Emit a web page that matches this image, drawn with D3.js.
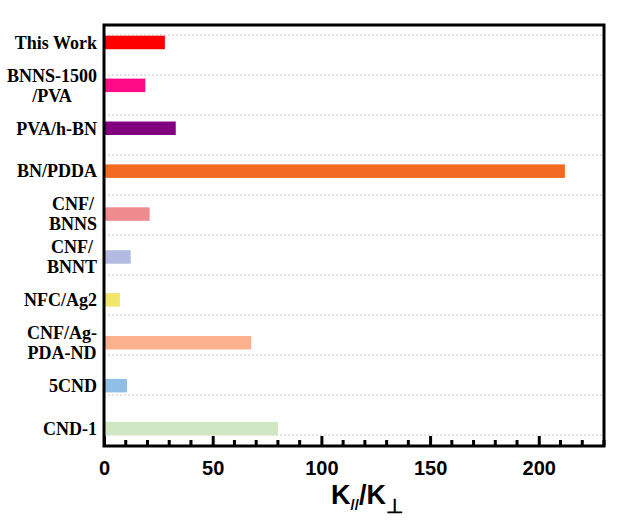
<!DOCTYPE html>
<html>
<head>
<meta charset="utf-8">
<script src="https://cdn.jsdelivr.net/npm/d3@7"></script>
<style>
  html, body { margin: 0; padding: 0; background: #ffffff; }
  svg { display: block; }
</style>
</head>
<body>
<script>
// Thermal conductivity anisotropy (K∥/K⊥) of the compared composites
const categories = ["This Work", "BNNS-1500\n/PVA", "PVA/h-BN", "BN/PDDA", "CNF/\nBNNS",
                    "CNF/\nBNNT", "NFC/Ag2", "CNF/Ag-\nPDA-ND", "5CND", "CND-1"];
const values = [28, 19, 33, 212, 21, 12.3, 7.3, 67.7, 10.6, 80];
const barColors = ["#ff0000", "#ff0a87", "#800080", "#f26a22", "#ef8b8f",
                   "#b3bce0", "#f2e56c", "#fdb08e", "#8fbee6", "#cfe7c3"];
const majorTicks = [0, 50, 100, 150, 200];
const minorTicks = d3.range(0, 231, 10).filter(v => v % 50 !== 0);

const W = 617, H = 523;
const plotL = 104, plotR = 604, plotT = 25, plotB = 446;

const svg = d3.select("body").append("svg").attr("width", W).attr("height", H);

const x = d3.scaleLinear().domain([0, 230]).range([plotL, plotR]);
const y = d3.scaleBand().domain(categories).range([21, 450])
  .paddingInner(0.685).paddingOuter(0.3425);

// dashed horizontal guides
const guide = d3.scaleLinear().domain([0, 10]).range([435, 35]);
svg.append("g").selectAll("line").data(d3.range(11)).join("line")
  .attr("x1", plotL).attr("x2", plotR)
  .attr("y1", d => guide(d)).attr("y2", d => guide(d))
  .attr("stroke", "#c8c8c8").attr("stroke-width", 1)
  .attr("stroke-dasharray", "2,2");

// bars
svg.append("g").selectAll("rect").data(categories).join("rect")
  .attr("x", x(0))
  .attr("y", d => y(d))
  .attr("width", (d, i) => x(values[i]) - x(0))
  .attr("height", y.bandwidth())
  .attr("fill", (d, i) => barColors[i]);

// bottom axis: major ticks with labels, pointing inward
const xAxis = d3.axisBottom(x).tickValues(majorTicks).tickSize(-10).tickPadding(15)
  .tickFormat(d3.format("d"));
const gx = svg.append("g").attr("transform", `translate(0,${plotB})`).call(xAxis);
gx.select(".domain").remove();
gx.selectAll(".tick line").attr("stroke", "#000").attr("stroke-width", 3);
gx.selectAll(".tick text")
  .attr("font-family", "'Liberation Sans', Arial, sans-serif")
  .attr("font-weight", "bold").attr("font-size", 20).attr("fill", "#000");

// minor ticks
svg.append("g").selectAll("line").data(minorTicks).join("line")
  .attr("x1", d => x(d)).attr("x2", d => x(d))
  .attr("y1", plotB).attr("y2", plotB - 6)
  .attr("stroke", "#000").attr("stroke-width", 3);

// frame
svg.append("rect")
  .attr("x", plotL).attr("y", plotT)
  .attr("width", plotR - plotL).attr("height", plotB - plotT)
  .attr("fill", "none").attr("stroke", "#000").attr("stroke-width", 3);

// category labels: each block centred on its own widest line, right edge aligned
const labelRight = 97, lineH = 20;
const lab = svg.append("g")
  .attr("font-family", "'Liberation Serif', 'Times New Roman', serif")
  .attr("font-weight", "bold").attr("font-size", 18).attr("fill", "#000");
categories.forEach(c => {
  const lines = c.split("\n");
  const cy = y(c) + y.bandwidth() / 2;
  const t = lab.append("text").attr("text-anchor", "middle");
  lines.forEach((ln, k) => {
    t.append("tspan").text(ln)
      .attr("y", cy + (k - (lines.length - 1) / 2) * lineH)
      .attr("dy", "0.35em");
  });
  let wmax = 0;
  t.selectAll("tspan").each(function () {
    wmax = Math.max(wmax, this.getComputedTextLength());
  });
  t.selectAll("tspan").attr("x", labelRight - wmax / 2);
});

// axis title K∥/K⊥
const title = svg.append("text")
  .attr("x", 367).attr("y", 504)
  .attr("text-anchor", "middle")
  .attr("font-family", "'Liberation Sans', Arial, sans-serif")
  .attr("font-weight", "bold").attr("font-size", 27).attr("fill", "#000");
title.append("tspan").text("K");
title.append("tspan").text("//").attr("font-size", 15).attr("dy", 6);
title.append("tspan").text("/K").attr("dy", -6);
title.append("tspan").text("⊥").attr("font-size", 20).attr("dy", 9);
</script>
</body>
</html>
